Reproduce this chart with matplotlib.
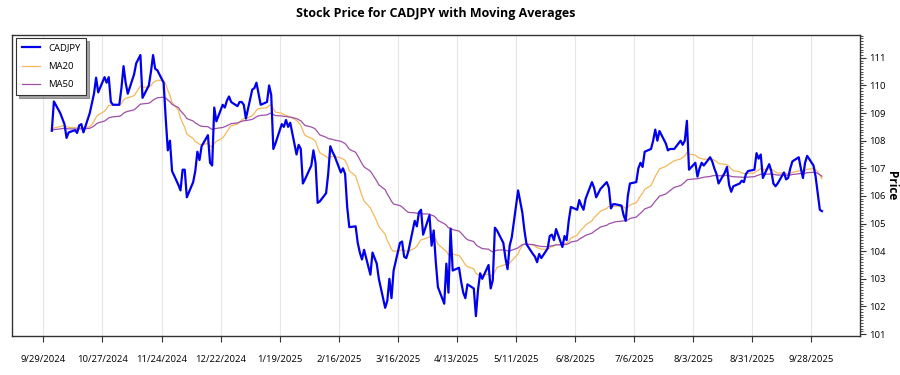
import matplotlib
matplotlib.use("Agg")
import matplotlib.pyplot as plt
import matplotlib.dates as mdates
from matplotlib.ticker import MultipleLocator, FixedLocator
import pandas as pd

plt.rcParams['font.family'] = ['Open Sans', 'DejaVu Sans']

# Données (cours de clôture journaliers CADJPY)
start_date = "2024-10-03"
cadjpy = [
    108.36, 109.42,
    109.0, 108.8, 108.6, 108.1, 108.3,
    108.38, 108.28, 108.55, 108.6, 108.3,
    109.0, 109.35, 109.7, 110.28, 109.75,
    110.3, 110.1, 110.3, 109.4, 109.3,
    109.3, 109.9, 110.7, 110.1, 109.7,
    110.4, 110.8, 110.95, 111.1, 109.55,
    110.0, 110.5, 111.1, 110.6, 110.55,
    110.1, 108.8, 107.65, 108.0, 106.9,
    106.4, 106.2, 106.95, 106.95, 105.95,
    106.5, 106.9, 107.6, 107.3, 107.8,
    108.2, 107.2, 107.1, 109.2, 108.7,
    109.3, 109.2, 109.45, 109.6, 109.4,
    109.25, 109.4, 109.4, 109.3, 108.8,
    109.85, 109.9, 110.1, 109.7, 109.3,
    109.4, 110.0, 109.65, 107.7, 107.9,
    108.6, 108.5, 108.75, 108.5, 108.65,
    107.5, 107.85, 107.7, 106.45, 106.6,
    107.1, 107.65, 107.2, 105.75, 105.8,
    106.1, 106.8, 107.8, 107.6, 107.45,
    106.85, 107.0, 106.8, 105.6, 104.87,
    104.9, 104.3, 103.95, 103.7, 104.05,
    103.15, 103.95, 103.75, 103.55, 103.0,
    101.95, 102.2, 103.0, 102.3, 103.3,
    104.3, 104.35, 103.8, 103.75, 104.0,
    105.1, 104.9, 105.4, 105.5, 104.6,
    105.3, 104.2, 104.75, 103.6, 102.7,
    102.1, 103.55, 102.5, 104.8, 103.3,
    103.4, 102.9, 102.5, 102.3, 102.8,
    102.65, 101.65, 102.6, 103.2, 103.0,
    103.5, 102.65, 102.95, 104.85, 104.75,
    104.3, 103.75, 103.35, 104.2, 104.5,
    106.2, 105.8, 105.4, 104.75, 104.25,
    103.9, 103.8, 103.6, 103.9, 103.75,
    104.1, 104.55, 104.6, 104.4, 104.8,
    104.15, 104.55, 104.4, 105.1, 105.6,
    105.5, 105.85, 105.65, 105.5, 105.9,
    106.5, 106.3, 105.95, 106.1, 106.25,
    106.5, 106.3, 105.55, 105.7, 105.7,
    105.65, 105.3, 105.1, 106.0, 106.45,
    106.5, 107.0, 107.2, 107.05, 107.6,
    107.7, 108.0, 108.4, 108.0, 108.35,
    107.9, 107.65, 107.7, 107.7, 107.7,
    108.0, 107.85, 108.0, 108.72, 106.95,
    107.2, 106.7, 107.0, 107.2, 107.1,
    107.4, 107.25, 107.0, 106.8, 106.45,
    106.85, 107.05, 106.4, 106.15, 106.35,
    106.45, 106.55, 106.5, 106.8, 106.9,
    106.95, 107.55, 107.35, 107.5, 106.65,
    107.15, 106.9, 106.45, 106.35, 106.45,
    106.85, 106.6, 106.65, 107.0, 107.25,
    107.4, 107.0, 106.65, 107.2, 107.45,
    107.1, 106.7, 106.1, 105.5, 105.45,
]
tick_dates = ["2024-09-29", "2024-10-27", "2024-11-24", "2024-12-22",
              "2025-01-19", "2025-02-16", "2025-03-16", "2025-04-13",
              "2025-05-11", "2025-06-08", "2025-07-06", "2025-08-03",
              "2025-08-31", "2025-09-28"]
y_ticks = list(range(101, 112))

dates = pd.bdate_range(start_date, periods=len(cadjpy))
df = pd.DataFrame({"Close": cadjpy}, index=dates)
# moyennes mobiles (exponentielles, partent du premier cours)
df["MA20"] = df["Close"].ewm(span=20, adjust=False).mean()
df["MA50"] = df["Close"].ewm(span=50, adjust=False).mean()

fig = plt.figure(figsize=(9, 3.75), dpi=100)
ax = fig.add_axes([0.013, 0.104, 0.942, 0.803])

ax.plot(df.index, df["Close"], color="#0000ee", lw=1.6, label="CADJPY", zorder=3)
ax.plot(df.index, df["MA20"], color="#f5b85a", lw=0.9, label="MA20", zorder=2)
ax.plot(df.index, df["MA50"], color="#a050a8", lw=0.9, label="MA50", zorder=2)

ticks = pd.to_datetime(tick_dates)
ax.xaxis.set_major_locator(FixedLocator(mdates.date2num(ticks)))
ax.set_xticklabels([f"{d.month}/{d.day}/{d.year}" for d in ticks], fontsize=6.8)
ax.set_xlim(mdates.date2num(pd.Timestamp("2024-09-14")),
            mdates.date2num(pd.Timestamp("2025-10-20")) + 0.8)
ax.tick_params(axis="x", length=4, pad=10, color="#333333")
ax.grid(axis="x", color="#e6e6e6", lw=0.8, zorder=0)

ax.yaxis.tick_right()
ax.yaxis.set_label_position("right")
ax.set_yticks(y_ticks)
ax.set_yticklabels([str(v) for v in y_ticks], fontsize=6.8)
ax.yaxis.set_minor_locator(MultipleLocator(0.1))
ax.tick_params(axis="y", which="major", length=4, pad=3, color="#333333")
ax.tick_params(axis="y", which="minor", length=2, color="#333333")
ax.set_ylim(100.93, 111.83)
ax.set_ylabel("Price", rotation=270, fontsize=8.5, fontweight="bold", labelpad=9)

for s in ax.spines.values():
    s.set_color("#333333")
    s.set_linewidth(1.0)

ax.set_title("Stock Price for CADJPY with Moving Averages", fontsize=9,
             fontweight="bold", pad=13)

leg = ax.legend(loc="upper left", bbox_to_anchor=(0.005, 0.99), borderaxespad=0,
                fontsize=6.8, fancybox=False, shadow=True, edgecolor="#333333",
                handlelength=2.0, labelspacing=1.0, borderpad=0.6, framealpha=1)
leg.get_frame().set_linewidth(0.8)

fig.savefig("out.png", dpi=100)
